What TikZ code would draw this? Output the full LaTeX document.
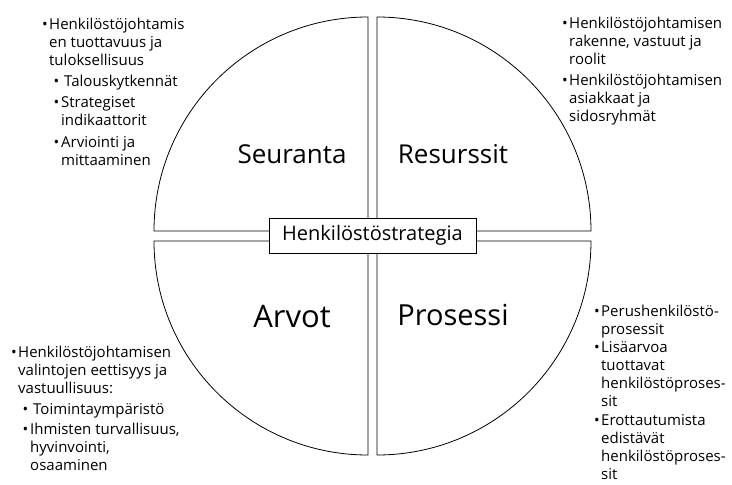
\documentclass[tikz,border=0pt]{standalone}
\usepackage{fontspec}
\setmainfont{Open Sans}
\newcommand{\bul}[1]{\llap{\textbullet\hspace{#1}}}
\newcommand{\rows}[1]{\begin{tabular}[t]{@{}l@{}}#1\end{tabular}}
\begin{document}
\begin{tikzpicture}[
    x=1pt, y=1pt,
    quarter/.style={draw, line width=0.8pt},
    every node/.style={inner sep=0pt, text=black},
    point/.style={anchor=base west, font=\fontsize{15}{18}\selectfont},
    field/.style={anchor=base},
    core/.style={draw, line width=0.8pt, fill=white, minimum width=207pt,
        minimum height=35pt, font=\fontsize{20}{24}\selectfont}
]
\useasboundingbox (0,0) rectangle (732,-485);
% four quarters with a narrow gap between them
\draw[quarter] (377,-231) -- ++(0,214) arc[start angle=90, end angle=0, radius=214] -- cycle;
\draw[quarter] (368,-231) -- ++(-214,0) arc[start angle=180, end angle=90, radius=214] -- cycle;
\draw[quarter] (368,-241) -- ++(0,-214) arc[start angle=270, end angle=180, radius=214] -- cycle;
\draw[quarter] (377,-241) -- ++(214,0) arc[start angle=0, end angle=-90, radius=214] -- cycle;

\node[core] (strategy) at (372.5,-235.5) {Henkilöstöstrategia};

\node[field, font=\fontsize{26}{30}\selectfont] (seuranta) at (292,-163) {Seuranta};
\node[field, font=\fontsize{26}{30}\selectfont] (resurssit) at (453,-163) {Resurssit};
\node[field, font=\fontsize{31}{36}\selectfont] (arvot) at (292,-327) {Arvot};
\node[field, font=\fontsize{29}{34}\selectfont] (prosessi) at (453,-325) {Prosessi};

% top left
\node[point] (seuA) at (49,-29) {\rows{\bul{1.5pt}Henkilöstöjohtamis\\en tuottavuus ja\\tuloksellisuus}};
\node[point] (seuB) at (64,-86) {\rows{\bul{5pt}Talouskytkennät}};
\node[point] (seuC) at (61,-107) {\rows{\bul{2pt}Strategiset\\indikaattorit}};
\node[point] (seuD) at (61,-147) {\rows{\bul{2pt}Arviointi ja\\mittaaminen}};

% top right
\node[point] (resA) at (569,-28) {\rows{\bul{1.5pt}Henkilöstöjohtamisen\\rakenne, vastuut ja\\roolit}};
\node[point] (resB) at (569,-85) {\rows{\bul{1.5pt}Henkilöstöjohtamisen\\asiakkaat ja\\sidosryhmät}};

% bottom left
\node[point] (arvA) at (18,-357) {\rows{\bul{1.5pt}Henkilöstöjohtamisen\\valintojen eettisyys ja\\vastuullisuus:}};
\node[point] (arvB) at (33,-414) {\rows{\bul{5pt}Toimintaympäristö}};
\node[point] (arvC) at (30,-434) {\rows{\bul{2pt}Ihmisten turvallisuus,\\hyvinvointi,\\osaaminen}};

% bottom right
\node[point] (proA) at (601,-316) {\rows{\bul{1.5pt}Perushenkilöstö-\\prosessit}};
\node[point] (proB) at (601,-352) {\rows{\bul{1.5pt}Lisäarvoa\\tuottavat\\henkilöstöproses-\\sit}};
\node[point] (proC) at (601,-425) {\rows{\bul{1.5pt}Erottautumista\\edistävät\\henkilöstöproses-\\sit}};
\end{tikzpicture}
\end{document}
